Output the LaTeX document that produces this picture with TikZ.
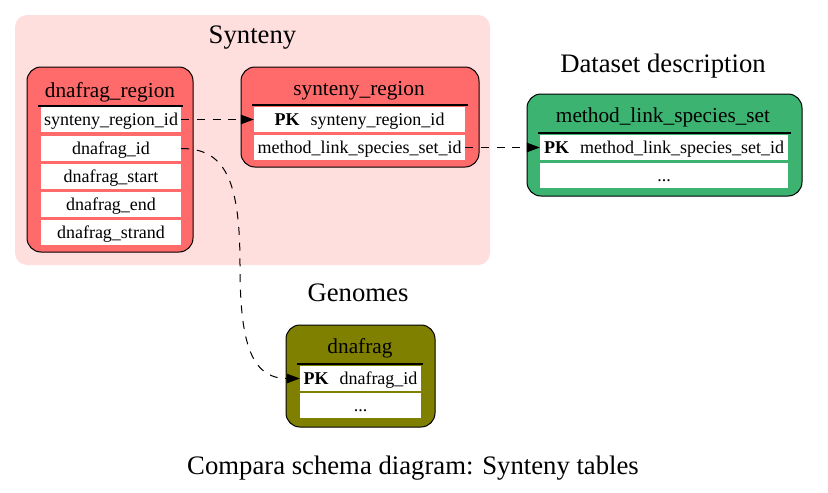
\documentclass[tikz,border=0pt]{standalone}
\usepackage{fontspec}
\setmainfont{Liberation Serif}
\usetikzlibrary{arrows.meta}
\definecolor{clusterpink}{HTML}{FFDEDE}
\definecolor{tabred}{HTML}{FF6A6A}
\definecolor{tabgreen}{HTML}{3CB371}
\definecolor{tabolive}{HTML}{808000}
\begin{document}
\begin{tikzpicture}[x=1pt,y=-1pt,
  cluster/.style={rectangle, rounded corners=12pt, fill=clusterpink, draw=none, inner sep=0pt},
  tablebox/.style={rectangle, rounded corners=14pt, draw=black, line width=1pt, inner sep=0pt},
  clabel/.style={font=\fontsize{26.7}{30}\selectfont, anchor=base, inner sep=0pt},
  tlabel/.style={font=\fontsize{21.3}{24}\selectfont, anchor=base, inner sep=0pt},
  row/.style={rectangle, fill=white, inner sep=0pt, minimum height=25pt, text height=12pt, text depth=1pt, font=\fontsize{18}{20}\selectfont},
  sepline/.style={line width=2pt},
  fk/.style={draw=black, line width=1pt, dash pattern=on 8pt off 7.7pt, -{Triangle[length=13pt,width=9.5pt]}}
]
\useasboundingbox (0,0) rectangle (828,493);

% cluster
\node[cluster, minimum width=475pt, minimum height=250pt] (synteny) at (252.5,140) {};
\node[clabel] (syntenylbl) at (252.5,43) {Synteny};
\node[clabel] (datasetlbl) at (663,72) {Dataset description};
\node[clabel] (genomeslbl) at (358,301) {Genomes};
\node[clabel] (caption) at (413,474) {Compara schema diagram: Synteny tables};

% dnafrag_region
\node[tablebox, fill=tabred, minimum width=166pt, minimum height=185pt] (dr) at (110,159.5) {};
\node[tlabel] (drt) at (110,97) {dnafrag\_region};
\draw[sepline] (38,106) -- (183,106);
\node[row, minimum width=140pt] (dr1) at (111,119.5) {synteny\_region\_id};
\node[row, minimum width=140pt] (dr2) at (111,148.5) {dnafrag\_id};
\node[row, minimum width=140pt] (dr3) at (111,176.5) {dnafrag\_start};
\node[row, minimum width=140pt] (dr4) at (111,204.5) {dnafrag\_end};
\node[row, minimum width=140pt] (dr5) at (111,232.5) {dnafrag\_strand};

% synteny_region
\node[tablebox, fill=tabred, minimum width=238pt, minimum height=100pt] (sr) at (360,117) {};
\node[tlabel] (srt) at (359,95) {synteny\_region};
\draw[sepline] (252,105) -- (468,105);
\node[row, minimum width=211pt] (sr1) at (359.5,119.5) {\textbf{PK}\hspace{11pt}synteny\_region\_id};
\node[row, minimum width=211pt] (sr2) at (359.5,147.5) {method\_link\_species\_set\_id};

% method_link_species_set
\node[tablebox, fill=tabgreen, minimum width=275pt, minimum height=102pt] (ml) at (664.5,145) {};
\node[tlabel] (mlt) at (663,122) {method\_link\_species\_set};
\draw[sepline] (538,133) -- (791,133);
\node[row, minimum width=248pt] (ml1) at (664,147.5) {\textbf{PK}\hspace{11pt}method\_link\_species\_set\_id};
\node[row, minimum width=248pt] (ml2) at (664,175.5) {...};

% dnafrag
\node[tablebox, fill=tabolive, minimum width=149pt, minimum height=102pt] (df) at (360.5,376) {};
\node[tlabel] (dft) at (360,353) {dnafrag};
\draw[sepline] (297,364) -- (423,364);
\node[row, minimum width=121pt] (df1) at (360.5,378.5) {\textbf{PK}\hspace{11pt}dnafrag\_id};
\node[row, minimum width=121pt] (df2) at (360.5,405.5) {...};

% connectors
\draw[fk] (dr1.east) -- (sr1.west);
\draw[fk] (sr2.east) -- (ml1.west);
\draw[fk] (dr2.east) .. controls (225,148.5) and (240,180) .. (240,265)
  .. controls (240,340) and (250,378.5) .. (df1.west);
\end{tikzpicture}
\end{document}
